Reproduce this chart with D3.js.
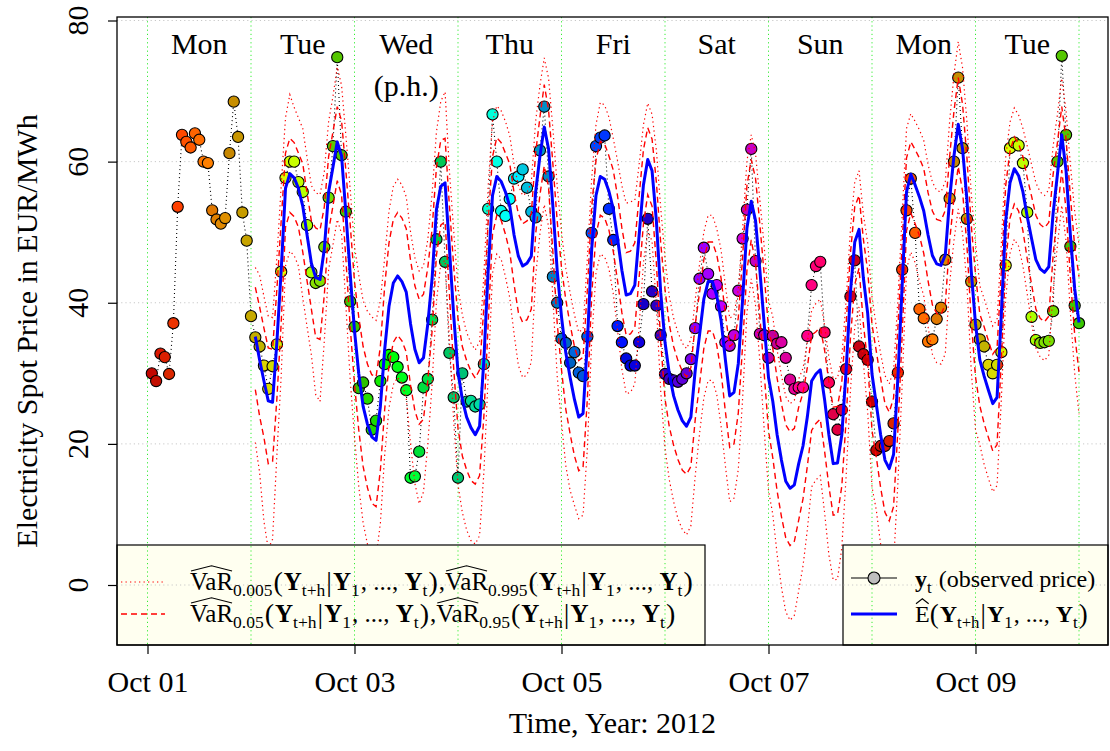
<!DOCTYPE html>
<html><head><meta charset="utf-8">
<script src="https://cdn.jsdelivr.net/npm/d3@7"></script>
<style>
body{margin:0;background:#fff}
text{font-family:"Liberation Serif","Times New Roman",serif;white-space:pre}
</style>
</head><body>
<svg id="c" width="1110" height="751"></svg>
<script>
// ---------------- DATA ----------------
// observed hourly prices, Oct 01 01:00 ... Oct 10 00:00
const observedPrice = [
 30.0,28.9,32.8,32.3,29.9,37.1,53.6,63.8,62.8,62.0,64.0,63.1,60.0,59.8,53.1,51.8,51.2,52.0,61.2,68.5,63.5,52.8,48.8,38.1,
 35.1,33.8,31.1,27.8,31.0,34.1,44.4,57.7,60.0,60.0,57.1,55.7,51.0,44.3,42.8,43.1,47.9,54.9,62.2,74.8,60.9,52.9,40.2,36.6,
 27.9,28.7,26.4,22.0,23.3,28.9,31.3,32.6,32.3,30.9,29.4,27.6,15.2,15.4,18.9,28.0,29.2,37.6,49.0,60.0,45.8,32.9,26.6,15.2,
 30.0,26.0,26.1,25.3,25.6,31.3,53.3,66.7,60.0,53.0,52.3,54.7,57.6,57.9,58.9,56.3,52.9,52.1,61.6,67.8,57.9,43.7,40.0,34.9,
 34.3,31.5,33.0,30.1,29.6,35.2,49.9,62.2,63.4,63.7,53.3,48.9,36.7,34.4,32.1,31.1,31.1,34.4,39.8,51.9,41.6,39.6,35.4,29.9,
 29.2,29.0,28.8,29.2,30.0,32.0,36.4,43.4,47.8,44.1,41.3,42.5,39.5,34.4,33.9,35.4,41.7,49.1,53.2,61.8,45.9,35.6,35.4,32.2,
 35.3,34.2,34.4,32.2,29.1,27.8,28.0,28.0,35.3,42.5,45.2,45.8,35.8,28.7,24.2,22.0,24.8,30.6,40.9,46.0,33.8,32.7,31.9,26.0,
 19.1,19.7,19.7,20.4,22.9,30.1,44.7,53.1,57.6,49.9,39.1,37.8,34.5,34.8,37.7,39.3,46.1,54.8,60.0,71.9,61.9,51.9,43.0,36.9,
 34.8,33.8,31.2,30.0,31.2,33.0,45.3,61.9,62.7,62.3,59.8,52.8,38.0,34.7,34.3,34.4,34.6,38.8,60.0,75.0,63.8,48.0,39.6,37.1
];
// forecasts, Oct 02 01:00 ... Oct 10 00:00
const forecastMean = [
 35.2,31.9,28.9,26.1,25.9,34.4,44.6,56.2,58.3,57.7,56.2,53.7,49.6,45.6,43.6,43.3,47.6,55.7,59.2,62.8,60.8,52.7,44.1,36.0,
 29.9,25.3,22.8,21.0,20.5,25.3,33.4,39.5,42.8,43.8,43.0,41.5,37.0,33.4,31.5,32.2,37.0,43.5,53.2,56.5,57.0,47.8,38.2,30.2,
 26.3,23.8,22.3,21.3,22.5,31.9,44.6,55.2,57.9,57.2,55.7,53.7,49.6,46.6,45.2,45.6,46.6,55.7,60.8,64.9,61.8,53.7,44.6,38.0,
 32.9,29.4,26.3,23.8,24.3,34.4,47.6,55.2,57.9,57.5,55.8,53.3,49.1,44.6,41.1,41.3,42.5,49.6,56.7,60.3,58.7,51.6,41.5,34.4,
 29.9,26.8,24.8,23.3,22.5,23.8,30.4,35.4,40.5,43.0,43.0,41.0,37.5,31.9,26.8,27.3,31.4,40.5,50.6,54.4,51.6,44.6,37.0,29.4,
 26.0,21.3,17.7,14.7,13.7,14.2,17.2,19.7,23.8,28.9,29.9,30.5,26.3,21.3,17.2,17.3,21.3,30.4,41.5,48.6,50.4,43.5,38.5,29.9,
 25.6,21.3,17.7,16.5,18.5,29.4,42.5,55.7,58.2,56.7,55.0,53.0,49.6,46.7,45.5,45.3,46.8,54.7,60.8,65.3,61.8,54.7,44.6,37.0,
 31.9,29.6,27.6,25.7,26.6,38.5,51.6,57.0,59.0,58.0,55.7,52.2,49.1,46.1,44.8,44.3,45.1,52.7,58.2,63.8,58.7,49.6,42.0,37.2
];
const var95 = [
 42.2,39.4,36.4,33.6,33.4,41.9,51.6,61.2,63.3,62.7,61.2,59.7,55.6,51.6,50.6,50.3,53.6,60.7,64.2,67.8,65.8,58.7,51.1,43.0,
 37.9,33.8,31.3,29.8,29.5,33.8,42.4,48.5,51.8,52.8,52.0,50.5,46.0,42.4,40.5,41.2,45.0,50.5,59.2,63.0,63.3,53.8,45.2,37.7,
 33.8,31.8,30.3,29.3,30.5,39.4,51.6,60.7,63.4,62.7,61.2,59.7,55.6,52.6,51.2,51.6,52.6,61.2,66.3,70.9,67.3,59.7,51.6,45.0,
 40.4,36.9,33.8,31.8,32.3,41.9,53.6,60.2,62.9,62.5,60.8,58.8,55.1,50.6,47.1,47.3,48.5,55.1,61.7,64.8,63.2,57.1,48.5,41.9,
 36.9,33.8,31.8,30.3,29.5,30.8,36.9,41.4,46.1,48.6,48.6,46.8,43.5,38.4,33.8,34.3,37.9,46.5,56.6,60.3,57.6,51.1,44.0,36.4,
 33.5,29.3,25.7,22.7,21.7,22.2,25.2,27.2,30.8,35.4,35.9,36.5,33.3,28.8,25.2,25.3,28.8,36.9,47.0,53.6,55.2,49.0,44.5,36.9,
 33.1,29.3,25.7,24.5,26.5,36.4,48.5,60.5,62.8,61.7,60.5,59.0,55.6,53.0,51.8,51.6,53.1,60.7,67.1,71.9,68.1,60.7,51.1,44.0,
 38.4,36.6,34.6,32.7,33.6,44.5,56.6,61.5,63.5,62.5,60.7,57.7,55.1,52.4,51.1,50.6,51.4,58.2,62.7,67.8,63.2,55.1,48.0,43.7
];
const var05 = [
 27.7,23.9,20.9,17.2,17.5,26.4,37.1,50.7,52.8,52.2,50.7,47.2,43.1,39.1,35.1,34.8,41.1,50.2,53.7,57.3,55.3,46.2,36.6,28.5,
 21.9,16.8,13.8,11.6,11.1,16.3,24.9,31.1,34.4,35.4,34.6,33.0,28.3,24.7,22.8,23.5,29.0,36.0,46.7,51.0,51.5,41.3,30.7,22.2,
 18.3,16.3,14.8,14.3,15.5,23.9,37.1,49.7,52.4,51.7,49.7,47.2,42.6,38.6,37.2,37.6,39.1,49.7,55.3,59.4,56.3,47.2,37.1,30.5,
 24.9,21.4,18.3,16.2,16.7,26.4,41.1,49.7,52.4,52.0,50.3,47.3,43.1,38.6,35.4,35.6,36.5,43.6,51.2,55.3,53.7,45.6,34.5,26.4,
 22.4,19.8,17.8,16.3,15.7,16.8,23.4,28.4,33.5,36.0,36.0,34.0,30.2,24.6,19.5,20.0,24.4,34.0,44.6,48.9,45.6,38.1,30.0,21.9,
 18.0,13.3,9.7,6.7,5.6,6.2,9.2,12.2,16.8,21.9,22.9,23.5,19.0,14.0,9.9,10.0,14.0,23.4,35.0,42.6,44.9,37.0,31.5,21.9,
 18.1,13.8,10.3,9.1,11.1,21.9,35.5,50.2,52.7,51.2,49.5,47.0,43.1,39.7,38.5,38.3,39.8,48.7,54.8,59.3,55.8,48.2,37.6,29.5,
 25.4,22.9,20.9,19.0,19.9,32.0,45.6,52.0,54.0,53.0,50.2,46.2,42.6,39.1,37.8,37.3,38.1,46.7,52.7,58.8,53.2,43.6,35.5,30.2
];
const var995 = [
 45.0,43.9,40.9,38.1,37.9,46.4,56.6,66.2,69.5,67.7,66.2,64.7,60.6,56.6,55.6,55.3,58.6,65.7,69.2,73.4,70.8,63.7,56.1,48.0,
 43.9,40.3,38.8,38.0,37.5,40.3,46.4,53.0,56.5,57.5,56.7,55.0,50.0,46.4,44.5,45.2,49.0,55.5,64.2,68.5,69.9,58.8,50.2,42.2,
 38.3,35.8,34.3,33.3,34.5,43.9,56.6,65.7,67.9,67.2,65.7,63.7,59.6,56.6,55.2,55.6,57.1,65.7,70.8,74.7,71.8,64.7,56.6,50.0,
 44.9,41.4,38.3,35.8,36.3,46.4,57.6,65.2,68.4,68.0,66.3,63.3,60.1,56.6,54.1,54.3,54.5,59.6,65.2,68.3,66.7,61.6,53.5,46.4,
 40.9,37.8,35.8,34.3,33.5,34.8,40.4,45.4,50.0,52.4,52.4,50.5,47.5,42.4,37.8,38.3,41.9,50.5,60.1,63.8,61.1,54.6,48.0,40.4,
 38.0,33.3,29.7,26.7,25.7,26.2,29.2,30.7,34.3,38.9,39.9,40.5,36.8,32.3,29.2,29.3,32.3,40.4,50.5,57.1,58.7,52.5,48.5,40.9,
 36.6,32.8,29.7,28.5,30.5,40.4,52.5,64.7,66.8,65.7,64.5,63.0,59.6,57.1,55.9,55.7,57.2,65.7,72.3,77.0,73.3,65.7,55.6,48.5,
 42.4,40.6,38.6,36.7,37.6,48.5,60.6,65.6,67.6,66.6,64.7,62.2,59.6,57.0,55.7,55.2,56.0,62.2,66.7,71.8,67.2,59.6,53.0,48.2
];
const var005 = [
 20.2,15.9,9.0,5.1,6.5,18.4,29.6,45.2,47.3,46.7,45.2,40.7,36.6,32.6,27.0,26.0,34.6,44.7,48.2,51.8,49.8,39.7,29.1,21.0,
 13.9,8.8,5.8,4.0,3.8,8.8,18.4,25.1,28.4,29.4,28.6,26.5,20.0,14.4,11.5,13.2,20.0,28.5,40.2,45.5,46.0,34.8,23.2,14.2,
 10.3,7.8,6.3,5.8,7.0,15.9,29.6,44.2,46.9,46.2,43.7,40.7,35.6,31.1,29.4,29.8,31.6,43.7,49.8,53.9,50.8,40.7,29.6,23.0,
 16.9,13.4,11.3,9.4,9.9,19.4,34.6,44.2,46.9,46.5,44.8,41.3,36.1,30.6,27.1,27.3,28.5,36.6,45.7,50.3,48.7,39.6,27.5,19.4,
 14.9,11.8,9.4,7.9,7.1,8.4,15.4,21.4,26.5,29.0,29.0,27.0,22.5,16.9,11.8,12.3,16.4,26.5,38.6,43.4,39.6,31.6,22.0,13.4,
 10.0,4.3,-0.3,-3.8,-5.0,-4.3,-0.8,2.7,7.8,13.9,14.9,15.5,10.3,4.3,0.7,0.8,5.3,15.4,27.5,36.6,39.4,31.5,24.5,13.9,
 10.6,5.8,2.2,1.0,3.0,14.4,28.5,44.7,47.2,45.7,43.0,41.0,36.6,32.7,31.5,31.3,32.8,42.7,48.8,53.3,49.8,42.7,30.6,22.0,
 19.9,17.1,15.1,13.2,14.1,26.5,40.6,47.0,49.0,48.0,45.2,41.2,37.1,33.6,32.3,31.8,32.6,41.7,48.2,53.8,48.7,38.6,30.0,24.2
];
const dayLabels = ["Mon","Tue","Wed","Thu","Fri","Sat","Sun","Mon","Tue"];
const dayNotes  = ["","","(p.h.)","","","","","",""];
const yTicks = [0,20,40,60,80];
const xTickDates = ["2012-10-01","2012-10-03","2012-10-05","2012-10-07","2012-10-09"];
const startDate = "2012-10-01";

// ---------------- CHART ----------------
const svg = d3.select("#c");
const box = {l:117, r:1108, t:17, b:645};
const t0 = new Date(startDate + "T00:00:00Z").getTime();
const HOUR = 3600e3, DAY = 24*HOUR;
const x = d3.scaleUtc().domain([new Date(t0), new Date(t0 + 9*DAY)]).range([147.5, 1079]);
const y = d3.scaleLinear().domain([0, 80]).range([585, 20.5]);

function hsv(h, s, v){
  const c=v*s, hp=h/60, q=c*(1-Math.abs(hp%2-1)); let r=0,g=0,b=0;
  if(hp<1){r=c;g=q;}else if(hp<2){r=q;g=c;}else if(hp<3){g=c;b=q;}else if(hp<4){g=q;b=c;}else if(hp<5){r=q;b=c;}else{r=c;b=q;}
  const m=v-c; return d3.rgb((r+m)*255,(g+m)*255,(b+m)*255).formatHex();
}
function pointColor(k){
  const hd = ((k-1)%24)+1;
  const v = hd<=2?0.76: hd<=5?0.86: hd===6?0.93: hd<=14?1: hd<=18?0.88: 0.78;
  return hsv(((k%168)/168)*360, 1, v);
}

const obs = observedPrice.map((v,i)=>({t:new Date(t0+(i+1)*HOUR), v, k:i+1}));
const mk = arr => arr.map((v,i)=>({t:new Date(t0+DAY+(i+1)*HOUR), v}));
const line = d3.line().x(d=>x(d.t)).y(d=>y(d.v));

svg.append("rect").attr("width",1110).attr("height",751).attr("fill","#fff");
const defs = svg.append("defs");
defs.append("clipPath").attr("id","plotclip").append("rect")
  .attr("x",box.l).attr("y",box.t).attr("width",box.r-box.l).attr("height",box.b-box.t);
const legL = {x:117, y:545, w:588, h:100};
const legR = {x:843, y:545, w:265, h:100};
const lc = defs.append("clipPath").attr("id","legclip");
lc.append("rect").attr("x",legL.x).attr("y",legL.y).attr("width",legL.w).attr("height",legL.h);
lc.append("rect").attr("x",legR.x).attr("y",legR.y).attr("width",legR.w).attr("height",legR.h);

const dayBounds = d3.range(0,10).map(d=>new Date(t0+d*DAY));
function drawGrid(g){
  g.selectAll(".hg").data(yTicks).join("line")
    .attr("x1",box.l).attr("x2",box.r).attr("y1",d=>y(d)).attr("y2",d=>y(d))
    .attr("stroke","#c8c8c8").attr("stroke-width",1).attr("stroke-dasharray","1.2,3");
  g.selectAll(".vg").data(dayBounds).join("line")
    .attr("x1",d=>x(d)).attr("x2",d=>x(d)).attr("y1",box.t).attr("y2",box.b)
    .attr("stroke","#33ee33").attr("stroke-width",1).attr("stroke-dasharray","1.2,3");
}
drawGrid(svg.append("g"));

const plot = svg.append("g").attr("clip-path","url(#plotclip)");
plot.append("path").datum(obs).attr("d",line).attr("fill","none")
  .attr("stroke","#000").attr("stroke-width",1.1).attr("stroke-dasharray","1,3");
plot.selectAll("circle.obs").data(obs).join("circle")
  .attr("cx",d=>x(d.t)).attr("cy",d=>y(d.v)).attr("r",5.6)
  .attr("fill",d=>pointColor(d.k)).attr("stroke","#000").attr("stroke-width",1.1);
[var005, var995].forEach(a=>plot.append("path").datum(mk(a)).attr("d",line).attr("fill","none")
  .attr("stroke","#ff0000").attr("stroke-width",1.2).attr("stroke-dasharray","1.3,3.2"));
[var05, var95].forEach(a=>plot.append("path").datum(mk(a)).attr("d",line).attr("fill","none")
  .attr("stroke","#ff0000").attr("stroke-width",1.4).attr("stroke-dasharray","6,4"));
plot.append("path").datum(mk(forecastMean)).attr("d",line).attr("fill","none")
  .attr("stroke","#0000ff").attr("stroke-width",3).attr("stroke-linejoin","round");

// legends
[legL, legR].forEach(L=>svg.append("rect").attr("x",L.x).attr("y",L.y).attr("width",L.w).attr("height",L.h)
  .attr("fill","#fffff0").attr("stroke","#000").attr("stroke-width",1.2));
drawGrid(svg.append("g").attr("clip-path","url(#legclip)"));

function rich(g, x0, yb, segs, FS){
  let cx = x0;
  segs.forEach(s=>{
    const size = s.sub ? FS*0.7 : (s.big ? FS*1.12 : FS);
    const dy = s.sub ? FS*0.24 : (s.big ? FS*0.05 : 0);
    const t = g.append("text").attr("x",cx).attr("y",yb+dy).attr("font-size",size)
      .attr("font-weight",s.b?"bold":"normal").attr("fill","#000").text(s.t);
    const w = t.node().getComputedTextLength();
    if (s.hat){
      const top = yb - FS*0.76, pk = yb - FS*0.97;
      g.append("path").attr("d",`M${cx+1},${top} L${cx+w/2},${pk} L${cx+w-1},${top}`)
        .attr("fill","none").attr("stroke","#000").attr("stroke-width",1.1);
    }
    cx += w + (s.sub ? 1 : 0) + (s.big ? 1 : 0);
  });
}
function condSegs(){
  return [{t:"(",big:1},{t:"Y",b:1},{t:"t+h",sub:1},{t:"|",big:1},{t:"Y",b:1},{t:"1",sub:1},
          {t:", ..., "},{t:"Y",b:1},{t:"t",sub:1},{t:")",big:1}];
}
const lg = svg.append("g");
function varRow(p1, p2, yb){
  rich(lg, 190, yb, [{t:"VaR",hat:1},{t:p1,sub:1},...condSegs(),{t:","},{t:"VaR",hat:1},{t:p2,sub:1},...condSegs()], 25);
}
varRow("0.005","0.995",590);
varRow("0.05","0.95",622);
lg.append("line").attr("x1",121).attr("x2",165).attr("y1",582).attr("y2",582)
  .attr("stroke","#ff0000").attr("stroke-width",1.2).attr("stroke-dasharray","1.3,3.2");
lg.append("line").attr("x1",121).attr("x2",165).attr("y1",614).attr("y2",614)
  .attr("stroke","#ff0000").attr("stroke-width",1.4).attr("stroke-dasharray","6,4");
lg.append("line").attr("x1",851).attr("x2",897).attr("y1",578).attr("y2",578).attr("stroke","#000").attr("stroke-width",1.2);
lg.append("circle").attr("cx",874).attr("cy",578).attr("r",6).attr("fill","#bebebe").attr("stroke","#000").attr("stroke-width",1.1);
lg.append("line").attr("x1",851).attr("x2",897).attr("y1",614).attr("y2",614).attr("stroke","#0000ff").attr("stroke-width",3);
rich(lg, 915, 587, [{t:"y",b:1},{t:"t",sub:1},{t:" (observed price)"}], 24);
rich(lg, 915, 622, [{t:"E",hat:1},...condSegs()], 24);

// box
svg.append("rect").attr("x",box.l).attr("y",box.t).attr("width",box.r-box.l).attr("height",box.b-box.t)
  .attr("fill","none").attr("stroke","#000").attr("stroke-width",1.3);

// axes
const xa = svg.append("g").attr("transform",`translate(0,${box.b})`)
  .call(d3.axisBottom(x).tickValues(xTickDates.map(s=>new Date(s+"T00:00:00Z")))
    .tickFormat(d3.utcFormat("%b %d")).tickSize(9).tickPadding(17));
xa.select(".domain").remove();
xa.selectAll("line").attr("stroke","#000").attr("stroke-width",1.2);
xa.selectAll("text").attr("font-size",30).attr("fill","#000").style("font-family","'Liberation Serif',serif");

const ya = svg.append("g").attr("transform",`translate(${box.l},0)`)
  .call(d3.axisLeft(y).tickValues(yTicks).tickSize(9).tickFormat(""));
ya.select(".domain").remove();
ya.selectAll("line").attr("stroke","#000").attr("stroke-width",1.2);
svg.selectAll("text.ylab").data(yTicks).join("text").attr("class","ylab")
  .attr("transform",d=>`translate(88,${y(d)}) rotate(-90)`).attr("text-anchor","middle")
  .attr("font-size",30).text(d=>d);

svg.append("text").attr("transform",`translate(37,${(box.t+box.b)/2}) rotate(-90)`)
  .attr("text-anchor","middle").attr("font-size",30).text("Electricity Spot Price in EUR/MWh");
svg.append("text").attr("x",(box.l+box.r)/2).attr("y",733).attr("text-anchor","middle")
  .attr("font-size",30).text("Time, Year: 2012");

// day labels
dayLabels.forEach((lab,i)=>{
  const cx = x(new Date(t0 + i*DAY + 12*HOUR));
  svg.append("text").attr("x",cx).attr("y",54).attr("text-anchor","middle").attr("font-size",30).text(lab);
  if (dayNotes[i]) svg.append("text").attr("x",cx).attr("y",96).attr("text-anchor","middle").attr("font-size",30).text(dayNotes[i]);
});
</script>
</body></html>
